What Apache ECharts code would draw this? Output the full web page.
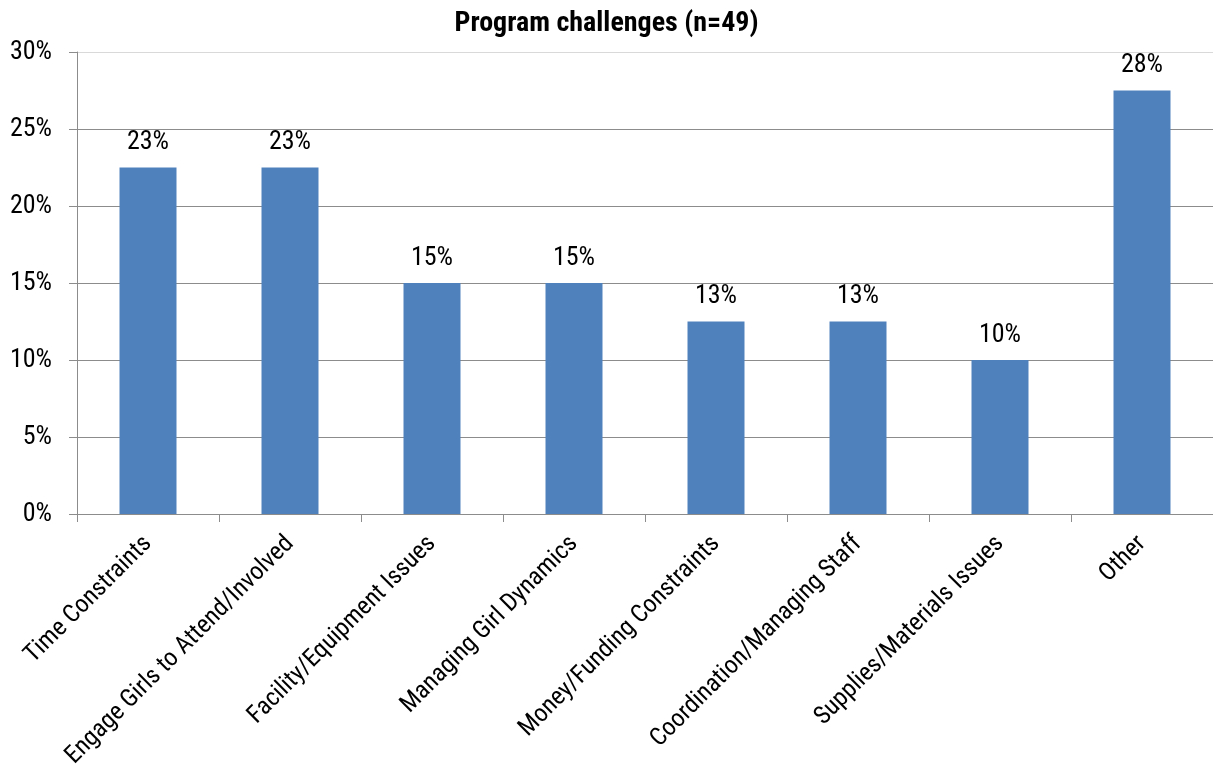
<!DOCTYPE html>
<html>
<head>
<meta charset="utf-8">
<script src="https://cdn.jsdelivr.net/npm/echarts@6/dist/echarts.min.js"></script>
<style>
html,body{margin:0;padding:0;background:#fff;}
#chart{width:1213px;height:765px;}
</style>
</head>
<body>
<div id="chart"></div>
<script>
const titleText = 'Program challenges (n=49)';
const categories = [
  'Time Constraints',
  'Engage Girls to Attend/Involved',
  'Facility/Equipment Issues',
  'Managing Girl Dynamics',
  'Money/Funding Constraints',
  'Coordination/Managing Staff',
  'Supplies/Materials Issues',
  'Other'
];
const values = [22.5, 22.5, 15, 15, 12.5, 12.5, 10, 27.5];
const valueLabels = ['23%', '23%', '15%', '15%', '13%', '13%', '10%', '28%'];
const yTicks = [0, 5, 10, 15, 20, 25, 30];

const FONT = '"Roboto Condensed", "Liberation Sans", Arial, sans-serif';
const chart = echarts.init(document.getElementById('chart'));
chart.setOption({
  animation: false,
  title: {
    text: titleText,
    left: 'center',
    top: 5,
    textStyle: {fontFamily: FONT, fontWeight: 'bold', fontSize: 28, color: '#000'}
  },
  grid: {left: 77, right: 0, top: 52, bottom: 251, containLabel: false, outerBoundsMode: 'none'},
  xAxis: {
    type: 'category',
    data: categories,
    boundaryGap: true,
    axisLine: {lineStyle: {color: '#8c8c8c', width: 1}},
    axisTick: {show: true, alignWithLabel: false, length: 8, lineStyle: {color: '#8c8c8c'}},
    axisLabel: {
      interval: 0,
      rotate: 45,
      margin: 26,
      fontFamily: FONT,
      fontSize: 25,
      color: '#000'
    }
  },
  yAxis: {
    type: 'value',
    min: yTicks[0],
    max: yTicks[yTicks.length - 1],
    interval: 5,
    axisLine: {show: true, lineStyle: {color: '#8c8c8c', width: 1}},
    axisTick: {show: true, length: 8, lineStyle: {color: '#8c8c8c'}},
    axisLabel: {
      margin: 25,
      fontFamily: FONT,
      fontSize: 26,
      color: '#000',
      formatter: v => v + '%'
    },
    splitLine: {show: true, lineStyle: {color: ['#8c8c8c','#8c8c8c','#8c8c8c','#8c8c8c','#8c8c8c','#8c8c8c','#d9d9d9'], width: 1}}
  },
  series: [{
    type: 'bar',
    data: values,
    barWidth: 57,
    itemStyle: {color: '#4f81bd'},
    label: {
      show: true,
      position: 'top',
      distance: 12,
      fontFamily: FONT,
      fontSize: 26,
      color: '#000',
      formatter: p => valueLabels[p.dataIndex]
    }
  }]
});
</script>
</body>
</html>
